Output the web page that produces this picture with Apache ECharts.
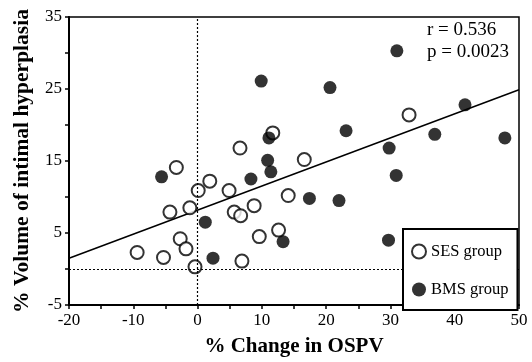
<!DOCTYPE html>
<html>
<head>
<meta charset="utf-8">
<script src="https://cdn.jsdelivr.net/npm/echarts@6/dist/echarts.min.js"></script>
<style>
  html, body { margin: 0; padding: 0; background: #fff; }
  #chart { width: 532px; height: 362px; }
</style>
</head>
<body>
<div id="chart"></div>
<script>
// SES group (open circles)
var sesX = [-3.3, 0.1, 1.9, -4.3, -1.2, -9.4, -5.3, -2.7, -1.8, -0.4, 4.9, 14.1, 8.8, 5.7, 6.7, 9.6, 12.6, 6.9, 11.7, 6.6, 16.6, 32.9];
var sesY = [14.1, 10.9, 12.2, 7.9, 8.5, 2.3, 1.6, 4.2, 2.8, 0.3, 10.9, 10.2, 8.8, 7.9, 7.4, 4.5, 5.4, 1.1, 18.9, 16.8, 15.2, 21.4];
// BMS group (filled circles)
var bmsX = [-5.6, 1.2, 2.4, 8.3, 11.4, 17.4, 13.3, 9.9, 11.1, 10.9, 20.6, 23.1, 41.6, 36.9, 47.8, 29.8, 30.9, 22.0, 29.7, 31.0];
var bmsY = [12.8, 6.5, 1.5, 12.5, 13.5, 9.8, 3.8, 26.1, 18.2, 15.1, 25.2, 19.2, 22.8, 18.7, 18.2, 16.8, 13.0, 9.5, 4.0, 30.3];
// regression line end points
var fitX = [-20, 50];
var fitY = [1.5, 24.9];
var statsText = ['r = 0.536', 'p = 0.0023'];
var xLabels = [-20, -10, 0, 10, 20, 30, 40, 50];
var yLabels = [-5, 5, 15, 25, 35];

function pairs(xs, ys) {
  return xs.map(function (x, i) { return [x, ys[i]]; });
}

var font = '"Liberation Serif", "DejaVu Serif", serif';
var chart = echarts.init(document.getElementById('chart'));

var option = {
  backgroundColor: '#ffffff',
  animation: false,
  grid: {
    left: 69, right: 13, top: 17, bottom: 54,
    show: true,
    borderColor: '#000',
    borderWidth: 1.5
  },
  xAxis: {
    type: 'value',
    min: -20, max: 50, interval: 5,
    name: '% Change in OSPV',
    nameLocation: 'middle',
    nameGap: 31,
    nameTextStyle: { fontFamily: font, fontSize: 21, fontWeight: 'bold', color: '#000' },
    axisLine: { onZero: false, lineStyle: { color: '#000', width: 2 } },
    axisTick: { length: 4, lineStyle: { color: '#000', width: 1.5 } },
    axisLabel: {
      fontFamily: font, fontSize: 17, color: '#000', margin: 7,
      formatter: function (v) { return xLabels.indexOf(v) >= 0 ? String(v) : ''; }
    },
    splitLine: { show: false }
  },
  yAxis: {
    type: 'value',
    min: -5, max: 35, interval: 5,
    name: '% Volume of intimal hyperplasia',
    nameLocation: 'middle',
    nameGap: 36,
    nameTextStyle: { fontFamily: font, fontSize: 21.5, fontWeight: 'bold', color: '#000' },
    axisLine: { onZero: false, lineStyle: { color: '#000', width: 2 } },
    axisTick: { length: 4, lineStyle: { color: '#000', width: 1.5 } },
    axisLabel: {
      fontFamily: font, fontSize: 17, color: '#000', margin: 7,
      formatter: function (v) { return yLabels.indexOf(v) >= 0 ? String(v) : ''; }
    },
    splitLine: { show: false }
  },
  legend: {
    orient: 'vertical',
    left: 403, top: 229,
    padding: [14, 9, 12, 8],
    itemGap: 21,
    itemWidth: 14, itemHeight: 14,
    backgroundColor: '#fff',
    borderColor: '#000',
    borderWidth: 2,
    z: 20,
    textStyle: { fontFamily: font, fontSize: 16.5, color: '#000' },
    data: [
      { name: 'SES group', icon: 'circle' },
      { name: 'BMS group', icon: 'circle' }
    ]
  },
  graphic: [
    {
      type: 'text', left: 427, top: 19,
      style: { text: statsText.join('\n'), font: '19px ' + font, fill: '#000', lineHeight: 22 }
    }
  ],
  series: [
    {
      name: 'fit',
      type: 'line',
      data: pairs(fitX, fitY),
      symbol: 'none',
      lineStyle: { color: '#000', width: 1.5 },
      silent: true,
      markLine: {
        silent: true,
        symbol: 'none',
        label: { show: false },
        lineStyle: { color: '#000', type: [2, 2], width: 1.2 },
        data: [{ xAxis: 0 }, { yAxis: 0 }]
      }
    },
    {
      name: 'SES group',
      type: 'scatter',
      data: pairs(sesX, sesY),
      symbol: 'circle',
      symbolSize: 13,
      itemStyle: { color: '#fff', borderColor: '#000', borderWidth: 2 },
      z: 3
    },
    {
      name: 'BMS group',
      type: 'scatter',
      data: pairs(bmsX, bmsY),
      symbol: 'circle',
      symbolSize: 13,
      itemStyle: { color: '#000' },
      z: 3
    }
  ]
};

chart.setOption(option);
</script>
</body>
</html>
